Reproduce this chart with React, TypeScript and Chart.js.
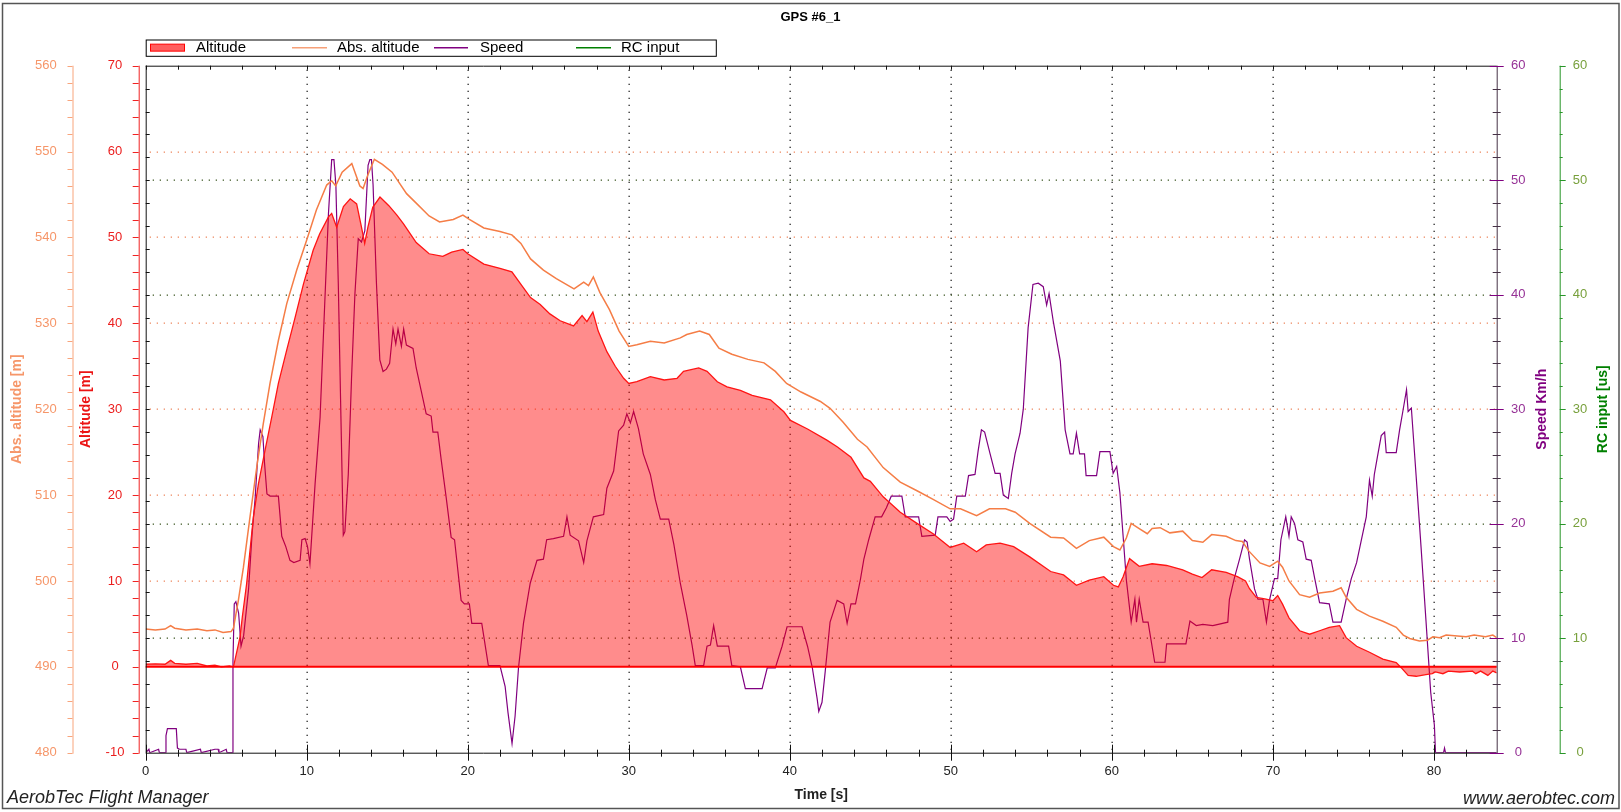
import React, { useEffect, useRef } from 'react';
import { Chart, registerables } from 'chart.js';

Chart.register(...registerables);

const FONT = '"Liberation Sans", Arial, Helvetica, sans-serif';

// ---------- texts ----------
const chartTitle = 'GPS #6_1';
const legendLabels = ['Altitude', 'Abs. altitude', 'Speed', 'RC input'];
const xAxisTitle = 'Time [s]';
const absAxisTitle = 'Abs. altitude [m]';
const altAxisTitle = 'Altitude [m]';
const speedAxisTitle = 'Speed Km/h';
const rcAxisTitle = 'RC input [us]';
const footerLeft = 'AerobTec Flight Manager';
const footerRight = 'www.aerobtec.com';

// ---------- axis ranges ----------
const timeRange = [0, 83.9];
const altitudeRange = [-10, 70];
const absAltitudeRange = [480, 560];
const speedRange = [0, 60];
const rcRange = [0, 60];

// ---------- data: Altitude [m] ----------
const altitudeTime = [
  0.0, 0.6, 1.2, 1.55, 1.8, 2.5, 3.2, 3.8, 4.3, 4.7,
  5.2, 5.45, 5.86, 6.0, 6.27, 6.48, 6.69, 7.0, 7.41, 7.83,
  8.24, 8.76, 9.28, 9.8, 10.4, 10.8, 11.35, 11.55, 11.86, 12.28,
  12.7, 13.1, 13.4, 13.6, 13.8, 14.1, 14.55, 15.1, 15.6, 16.0,
  16.8, 17.6, 18.45, 19.0, 19.7, 20.0, 21.0, 22.0, 22.74, 23.36,
  23.9, 24.5, 25.1, 25.74, 26.57, 27.1, 27.4, 27.77, 28.1, 28.64,
  29.16, 29.68, 30.0, 30.5, 31.34, 32.2, 33.0, 33.4, 34.34, 34.86,
  35.5, 36.1, 36.93, 37.66, 38.8, 39.63, 40.04, 41.1, 42.3, 42.96,
  43.8, 44.6, 45.0, 45.8, 46.86, 47.9, 48.9, 49.96, 50.8, 51.6,
  52.2, 53.06, 53.9, 54.9, 56.2, 57.0, 57.8, 58.6, 59.5, 60.1,
  60.4, 60.7, 61.1, 61.7, 62.5, 63.4, 64.4, 65.0, 65.6, 66.2,
  67.1, 67.8, 68.3, 68.55, 68.96, 69.5, 70.0, 70.3, 70.6, 71.0,
  71.66, 72.28, 72.9, 73.5, 74.14, 74.55, 75.2, 76.0, 76.83, 77.66,
  77.97, 78.4, 78.9, 79.5, 79.9, 80.1, 80.56, 80.9, 81.6, 82.4,
  82.6, 82.9, 83.35, 83.66, 83.9,
];
const altitudeValues = [
  0.3, 0.35, 0.3, 0.75, 0.4, 0.3, 0.4, 0.1, 0.2, 0.0,
  0.1, 0.0, 3.5, 5.8, 9.7, 13.6, 17.5, 21.3, 25.2, 29.1,
  33.0, 36.9, 40.7, 44.6, 48.5, 50.4, 52.4, 52.8, 51.2, 53.6,
  54.5, 53.9, 51.2, 49.3, 51.2, 53.5, 54.7, 53.7, 52.6, 51.6,
  49.4, 48.1, 47.8, 48.3, 48.6, 48.1, 46.9, 46.4, 46.0, 44.4,
  43.0, 42.2, 41.1, 40.3, 39.7, 40.9, 40.2, 41.3, 39.1, 36.7,
  35.0, 33.6, 33.0, 33.2, 33.8, 33.4, 33.6, 34.4, 34.8, 34.4,
  33.2, 32.6, 32.2, 31.6, 31.1, 29.7, 28.7, 27.7, 26.4, 25.6,
  24.4, 22.0, 21.6, 19.8, 18.0, 16.7, 15.5, 13.9, 14.4, 13.4,
  14.2, 14.4, 14.0, 12.8, 11.1, 10.7, 9.5, 10.1, 10.5, 9.5,
  9.3, 10.5, 12.6, 11.7, 12.0, 11.8, 11.3, 10.8, 10.4, 11.3,
  11.0, 10.5, 10.0, 9.1, 8.1, 7.9, 7.7, 8.3, 7.3, 5.7,
  4.2, 3.8, 4.2, 4.6, 4.8, 3.4, 2.4, 1.7, 0.9, 0.5,
  -0.1, -1.0, -1.1, -0.9, -0.8, -0.6, -0.8, -0.5, -0.6, -0.5,
  -0.8, -0.5, -1.0, -0.5, -0.7,
];

// ---------- data: Abs. altitude [m] ----------
const absAltitudeTime = [
  0.0, 0.6, 1.2, 1.55, 1.8, 2.5, 3.2, 3.8, 4.3, 4.8,
  5.3, 5.45, 5.76, 6.07, 6.48, 6.9, 7.3, 7.72, 8.24, 8.76,
  9.38, 10.0, 10.6, 11.24, 11.55, 11.8, 12.2, 12.8, 13.3, 13.5,
  13.8, 14.2, 14.7, 15.3, 16.2, 16.8, 17.6, 18.25, 19.1, 19.7,
  20.1, 21.0, 22.0, 22.74, 23.3, 23.9, 24.7, 25.5, 26.6, 27.2,
  27.5, 27.8, 28.2, 28.8, 29.4, 30.0, 30.5, 31.34, 32.2, 33.2,
  33.6, 34.4, 35.0, 35.6, 36.4, 37.4, 38.4, 39.1, 39.8, 40.7,
  41.9, 42.5, 43.3, 44.2, 44.8, 45.8, 46.86, 47.9, 48.9, 49.96,
  50.6, 51.6, 52.4, 53.4, 54.0, 54.9, 56.2, 57.0, 57.8, 58.6,
  59.5, 60.1, 60.5, 60.9, 61.2, 61.7, 62.2, 62.5, 63.0, 63.6,
  64.4, 65.0, 65.65, 66.2, 67.1, 67.7, 68.1, 68.5, 69.2, 69.8,
  70.3, 70.6, 71.0, 71.66, 72.28, 72.9, 73.73, 74.24, 74.55, 75.2,
  76.0, 76.83, 77.66, 78.1, 78.5, 79.1, 79.6, 79.94, 80.35, 80.76,
  82.0, 82.5, 83.2, 83.66, 83.9,
];
const absAltitudeValues = [
  494.4, 494.3, 494.4, 494.8, 494.5, 494.3, 494.4, 494.2, 494.3, 494.0,
  494.1, 494.5, 497.8, 501.6, 507.5, 513.3, 518.3, 523.0, 528.0, 532.3,
  536.2, 539.7, 543.2, 546.1, 546.6, 546.0, 547.6, 548.6, 546.0, 545.7,
  547.3, 549.1, 548.5, 547.6, 545.1, 544.0, 542.5, 541.8, 542.1, 542.6,
  542.1, 541.1, 540.7, 540.3, 539.3, 537.5, 536.2, 535.2, 534.0, 534.8,
  534.4, 535.4, 533.6, 531.6, 529.1, 527.3, 527.5, 527.9, 527.7, 528.3,
  528.7, 529.1, 528.7, 527.1, 526.4, 525.8, 525.4, 524.4, 523.0, 522.0,
  520.9, 520.1, 518.5, 516.5, 515.6, 513.2, 511.5, 510.5, 509.5, 508.4,
  508.4, 507.6, 508.4, 508.4, 508.0, 506.7, 505.1, 505.0, 503.8, 504.7,
  505.1, 504.0, 503.6, 505.0, 506.7, 506.1, 505.5, 506.1, 506.2, 505.6,
  505.8, 504.7, 504.5, 505.4, 505.2, 504.7, 504.6, 503.5, 502.1, 501.7,
  502.3, 501.6, 500.0, 498.4, 498.1, 498.6, 498.8, 499.2, 498.1, 496.7,
  495.9, 495.3, 494.6, 493.7, 493.3, 493.0, 493.1, 493.5, 493.4, 493.7,
  493.5, 493.7, 493.5, 493.7, 493.4,
];

// ---------- data: Speed [km/h] ----------
const speedTime = [
  0.0, 0.2, 0.25, 0.8, 0.85, 1.24, 1.26, 1.35, 1.9, 1.97,
  2.1, 2.5, 2.55, 3.4, 3.45, 4.3, 4.5, 4.55, 5.0, 5.05,
  5.38, 5.42, 5.5, 5.6, 5.77, 5.92, 6.08, 6.39, 6.6, 6.8,
  7.01, 7.11, 7.28, 7.38, 7.53, 7.73, 8.24, 8.45, 8.7, 8.96,
  9.2, 9.59, 9.7, 9.9, 10.05, 10.2, 10.52, 10.83, 11.0, 11.35,
  11.55, 11.69, 11.81, 11.96, 12.1, 12.27, 12.37, 12.58, 12.78, 12.99,
  13.2, 13.4, 13.61, 13.81, 13.92, 14.02, 14.12, 14.33, 14.54, 14.74,
  14.95, 15.15, 15.36, 15.53, 15.67, 15.88, 16.02, 16.19, 16.6, 16.8,
  17.11, 17.42, 17.73, 17.84, 18.14, 18.35, 18.66, 18.97, 19.18, 19.38,
  19.59, 19.79, 20.1, 20.25, 20.87, 21.28, 22.0, 22.32, 22.5, 22.75,
  22.94, 23.15, 23.46, 23.88, 24.3, 24.7, 24.9, 25.32, 25.95, 26.16,
  26.36, 26.88, 27.2, 27.4, 27.8, 28.44, 28.64, 29.06, 29.37, 29.68,
  29.88, 30.1, 30.3, 30.6, 30.9, 31.34, 31.65, 31.96, 32.48, 32.8,
  33.2, 33.6, 33.93, 34.13, 34.65, 34.86, 35.07, 35.27, 35.5, 36.2,
  36.4, 36.93, 37.24, 38.28, 38.6, 39.1, 39.52, 39.83, 40.76, 41.1,
  41.4, 41.7, 41.8, 42.0, 42.2, 42.5, 42.94, 43.35, 43.56, 43.8,
  44.08, 44.38, 44.6, 44.9, 45.3, 45.7, 46.0, 46.3, 46.96, 47.17,
  48.0, 48.2, 49.03, 49.2, 49.75, 49.96, 50.17, 50.37, 50.9, 51.1,
  51.5, 51.7, 51.9, 52.1, 52.44, 52.75, 53.06, 53.26, 53.57, 53.78,
  53.99, 54.3, 54.5, 54.8, 55.1, 55.43, 55.74, 55.95, 56.1, 56.36,
  56.8, 57.1, 57.4, 57.6, 57.8, 58.0, 58.3, 58.4, 59.05, 59.26,
  59.88, 60.08, 60.3, 60.5, 60.7, 60.9, 61.2, 61.43, 61.53, 61.7,
  61.94, 62.25, 62.66, 63.3, 63.4, 64.6, 64.85, 65.24, 65.65, 66.27,
  67.2, 67.3, 67.6, 67.93, 68.24, 68.4, 68.55, 68.86, 69.07, 69.38,
  69.6, 69.8, 70.1, 70.3, 70.5, 70.8, 71.0, 71.14, 71.35, 71.55,
  71.86, 72.07, 72.38, 72.6, 72.9, 73.5, 73.73, 74.24, 74.55, 74.87,
  75.2, 75.5, 75.8, 76.0, 76.17, 76.3, 76.5, 76.73, 76.94, 77.04,
  77.66, 77.87, 78.07, 78.3, 78.4, 78.6, 78.9, 79.2, 79.5, 79.8,
  80.03, 80.1, 80.6, 80.66, 80.72, 83.9,
];
const speedValues = [
  0.0, 0.3, 0.0, 0.3, 0.0, 0.0, 1.5, 2.1, 2.1, 0.4,
  0.3, 0.3, 0.0, 0.3, 0.0, 0.3, 0.3, 0.0, 0.3, 0.0,
  0.0, 8.0, 13.0, 13.2, 12.2, 9.3, 10.2, 14.3, 19.0, 22.3,
  27.0, 28.2, 27.6, 25.3, 22.6, 22.4, 22.4, 18.9, 18.0, 16.8,
  16.6, 16.8, 18.6, 18.7, 18.0, 16.5, 23.5, 29.3, 35.2, 47.1,
  51.8, 51.8, 49.6, 41.0, 31.0, 19.0, 19.3, 24.3, 32.6, 40.0,
  44.9, 44.6, 45.6, 51.3, 51.8, 51.8, 49.6, 41.0, 34.3, 33.3,
  33.5, 34.0, 37.0, 35.7, 37.0, 35.5, 37.0, 35.6, 35.3, 33.6,
  31.6, 29.6, 29.4, 28.0, 28.0, 25.6, 22.3, 18.8, 18.6, 16.0,
  13.3, 13.0, 13.0, 11.3, 11.3, 7.6, 7.6, 5.8, 3.5, 0.8,
  3.2, 7.4, 11.3, 14.8, 16.8, 16.9, 18.6, 18.7, 18.9, 20.6,
  19.0, 18.5, 16.6, 18.5, 20.6, 20.8, 23.1, 24.6, 28.1, 28.6,
  29.6, 28.8, 29.8, 28.3, 26.1, 24.3, 22.1, 20.4, 20.4, 18.2,
  14.8, 12.0, 9.4, 7.6, 7.6, 9.3, 9.4, 11.1, 9.3, 9.3,
  7.6, 7.5, 5.6, 5.6, 7.4, 7.4, 9.3, 11.0, 11.0, 9.3,
  7.4, 4.7, 3.6, 4.4, 7.1, 11.4, 13.3, 13.0, 11.3, 13.0,
  13.0, 15.1, 16.9, 18.6, 20.6, 20.6, 21.4, 22.4, 22.4, 20.6,
  20.6, 18.9, 19.0, 20.6, 20.6, 20.2, 20.4, 22.4, 22.4, 24.2,
  24.3, 26.4, 28.2, 28.0, 26.1, 24.4, 24.4, 22.5, 22.2, 24.4,
  26.1, 27.9, 30.0, 37.1, 40.9, 41.0, 40.7, 39.1, 40.1, 37.7,
  34.2, 28.2, 26.1, 26.1, 27.9, 26.1, 26.1, 24.2, 24.2, 26.3,
  26.3, 24.4, 25.0, 22.7, 18.9, 15.1, 11.4, 13.4, 11.4, 13.4,
  11.4, 11.4, 7.9, 7.9, 9.5, 9.5, 11.5, 11.1, 11.2, 11.1,
  11.4, 13.4, 15.2, 16.9, 18.6, 18.4, 16.9, 14.3, 13.4, 13.4,
  11.4, 13.4, 15.2, 15.2, 18.6, 20.6, 18.9, 20.6, 20.0, 18.6,
  18.4, 16.9, 16.8, 15.2, 13.1, 13.0, 11.4, 11.4, 13.4, 15.2,
  16.6, 18.6, 20.6, 23.8, 22.4, 24.3, 25.9, 27.7, 28.0, 26.2,
  26.2, 28.2, 29.8, 31.7, 29.8, 30.1, 24.1, 18.0, 11.7, 5.3,
  2.4, 0.0, 0.0, 0.4, 0.0, 0.0,
];

// ---------- data: RC input [us] (no samples recorded) ----------
const rcTime: number[] = [];
const rcValues: number[] = [];

// ---------- colours ----------
const C = {
  altLine: 'rgb(255,20,20)',
  altFill: 'rgba(255,0,0,0.45)',
  altAxis: 'rgb(240,35,35)',
  absLine: 'rgb(245,125,70)',
  absAxis: 'rgb(248,165,125)',
  absText: 'rgb(246,150,105)',
  speedLine: 'rgb(128,0,128)',
  speedText: 'rgb(150,50,150)',
  speedAxis: 'rgb(70,50,70)',
  rcLine: 'rgb(0,128,0)',
  rcAxis: 'rgb(40,150,40)',
  rcText: 'rgb(120,160,60)',
};

const zip = (t: number[], v: number[]) => t.map((x, i) => ({ x, y: v[i] }));

function vDots(ctx: CanvasRenderingContext2D, x: number, y0: number, y1: number, color: string) {
  ctx.fillStyle = color;
  for (let y = y0 + 4; y < y1 - 1; y += 7) ctx.fillRect(Math.round(x) - 0.5, y, 1.3, 1.3);
}
function hDots(ctx: CanvasRenderingContext2D, y: number, x0: number, x1: number, color: string) {
  ctx.fillStyle = color;
  for (let x = x0 + 4; x < x1 - 1; x += 7) ctx.fillRect(x, Math.round(y) - 0.5, 1.3, 1.3);
}
function line(ctx: CanvasRenderingContext2D, x0: number, y0: number, x1: number, y1: number) {
  ctx.beginPath();
  ctx.moveTo(x0, y0);
  ctx.lineTo(x1, y1);
  ctx.stroke();
}
function vText(ctx: CanvasRenderingContext2D, text: string, x: number, y: number, color: string) {
  ctx.save();
  ctx.translate(x, y);
  ctx.rotate(-Math.PI / 2);
  ctx.fillStyle = color;
  ctx.font = `bold 14px ${FONT}`;
  ctx.textAlign = 'center';
  ctx.textBaseline = 'middle';
  ctx.fillText(text, 0, 0);
  ctx.restore();
}

const decorPlugin = {
  id: 'decor',
  beforeDatasetsDraw(chart: any) {
    const { ctx, chartArea: ca, scales } = chart;
    const sx = scales.x, sAlt = scales.yAlt, sSp = scales.ySpeed;
    ctx.save();
    for (let t = 10; t <= 80; t += 10) vDots(ctx, sx.getPixelForValue(t), ca.top, ca.bottom, 'rgb(40,40,40)');
    for (let a = 10; a <= 60; a += 10) hDots(ctx, sAlt.getPixelForValue(a), ca.left, ca.right, 'rgb(238,140,100)');
    for (let s = 10; s <= 50; s += 10) {
      if (s === 30) continue;
      hDots(ctx, sSp.getPixelForValue(s), ca.left + 3, ca.right, 'rgb(70,95,45)');
    }
    ctx.restore();
  },
  afterDatasetsDraw(chart: any) {
    const { ctx, chartArea: ca, scales } = chart;
    const sx = scales.x, sAlt = scales.yAlt, sAbs = scales.yAbs, sSp = scales.ySpeed, sRc = scales.yRC;
    ctx.save();
    ctx.setLineDash([]);

    // zero altitude line
    ctx.strokeStyle = 'rgb(255,0,0)';
    ctx.lineWidth = 2;
    const y0 = sAlt.getPixelForValue(0);
    line(ctx, ca.left, y0, ca.right, y0);

    // plot frame: top, bottom, left
    ctx.strokeStyle = '#111';
    ctx.lineWidth = 1;
    line(ctx, ca.left, ca.top + 0.5, ca.right, ca.top + 0.5);
    line(ctx, ca.left, ca.bottom + 0.5, ca.right, ca.bottom + 0.5);
    line(ctx, ca.left + 0.5, ca.top, ca.left + 0.5, ca.bottom);
    for (let t = 0; t <= 83; t += 2) {
      const px = Math.round(sx.getPixelForValue(t)) + 0.5;
      const major = t % 10 === 0;
      line(ctx, px, ca.top, px, ca.top + 4);
      line(ctx, px, ca.bottom - (major ? 8 : 3), px, ca.bottom + (major ? 8 : 4));
    }
    for (let s = 2; s < 60; s += 2) {
      const py = Math.round(sSp.getPixelForValue(s)) + 0.5;
      line(ctx, ca.left, py, ca.left + 4, py);
    }

    // speed axis (right plot border)
    ctx.strokeStyle = C.speedAxis;
    line(ctx, ca.right + 0.5, ca.top, ca.right + 0.5, ca.bottom + 1);
    for (let s = 0; s <= 60; s += 2) {
      const py = Math.round(sSp.getPixelForValue(s)) + 0.5;
      const major = s % 10 === 0;
      ctx.strokeStyle = major ? C.speedLine : C.speedAxis;
      line(ctx, ca.right - (major ? 7 : 4), py, ca.right + (major ? 7 : 4), py);
    }

    // altitude axis (red)
    const xAlt = ca.left - 7;
    ctx.strokeStyle = C.altAxis;
    line(ctx, xAlt + 0.5, ca.top, xAlt + 0.5, ca.bottom + 1);
    for (let a = -10; a <= 70; a += 2) {
      const py = Math.round(sAlt.getPixelForValue(a)) + 0.5;
      line(ctx, xAlt - 6, py, xAlt, py);
    }

    // abs altitude axis (orange)
    const xAbs = sAbs.right - 7.5;
    ctx.strokeStyle = C.absAxis;
    line(ctx, xAbs + 0.5, ca.top, xAbs + 0.5, ca.bottom + 1);
    for (let a = 480; a <= 560; a += 2) {
      const py = Math.round(sAbs.getPixelForValue(a)) + 0.5;
      line(ctx, xAbs - 5, py, xAbs, py);
    }

    // RC axis (green)
    const xRc = sRc.left;
    ctx.strokeStyle = C.rcAxis;
    line(ctx, xRc + 0.5, ca.top, xRc + 0.5, ca.bottom + 1);
    for (let r = 0; r <= 60; r += 2) {
      const py = Math.round(sRc.getPixelForValue(r)) + 0.5;
      line(ctx, xRc, py, xRc + (r % 10 === 0 ? 6 : 3), py);
    }

    // axis titles
    const midY = (ca.top + ca.bottom) / 2;
    vText(ctx, absAxisTitle, 16.7, midY, C.absText);
    vText(ctx, altAxisTitle, 86, midY, 'rgb(235,20,20)');
    vText(ctx, speedAxisTitle, 1542.3, midY, C.speedLine);
    vText(ctx, rcAxisTitle, 1603.3, midY, C.rcLine);

    // chart title
    ctx.fillStyle = '#000';
    ctx.font = `bold 13px ${FONT}`;
    ctx.textAlign = 'center';
    ctx.textBaseline = 'middle';
    ctx.fillText(chartTitle, 810.5, 17);

    // legend
    const lx0 = ca.left, lx1 = 715.8, ly0 = 39.5, ly1 = 55.8, lyc = (ly0 + ly1) / 2;
    ctx.strokeStyle = '#000';
    ctx.lineWidth = 1;
    ctx.strokeRect(lx0 + 0.5, ly0 + 0.5, lx1 - lx0, ly1 - ly0);
    ctx.fillStyle = 'rgba(255,40,40,0.75)';
    ctx.fillRect(150, lyc - 3.5, 35, 7);
    ctx.strokeStyle = 'rgb(255,0,0)';
    ctx.strokeRect(150.5, lyc - 3.5, 34, 7);
    ctx.lineWidth = 1.5;
    ctx.strokeStyle = 'rgb(246,160,120)';
    line(ctx, 292, lyc, 327, lyc);
    ctx.strokeStyle = C.speedLine;
    line(ctx, 434, lyc, 468, lyc);
    ctx.strokeStyle = C.rcLine;
    line(ctx, 576, lyc, 611, lyc);
    ctx.fillStyle = '#000';
    ctx.font = `15px ${FONT}`;
    ctx.textAlign = 'left';
    const legendX = [196, 337, 480, 621];
    legendLabels.forEach((l, i) => ctx.fillText(l, legendX[i], lyc + 0.5));

    // footers
    ctx.fillStyle = '#222';
    ctx.font = `italic 18px ${FONT}`;
    ctx.textBaseline = 'alphabetic';
    ctx.textAlign = 'left';
    ctx.fillText(footerLeft, 7, 803);
    ctx.textAlign = 'right';
    ctx.fillText(footerRight, 1615, 804);

    // outer border
    ctx.strokeStyle = '#555';
    ctx.lineWidth = 1.5;
    ctx.strokeRect(2.5, 3.5, 1616.5, 805);
    ctx.restore();
  },
};

export default function App() {
  const ref = useRef<HTMLCanvasElement | null>(null);

  useEffect(() => {
    if (!ref.current) return;
    const tickFont = { family: FONT, size: 13 };
    const chart = new Chart(ref.current, {
      type: 'line',
      data: {
        datasets: [
          {
            label: legendLabels[0],
            data: zip(altitudeTime, altitudeValues),
            yAxisID: 'yAlt',
            borderColor: C.altLine,
            borderWidth: 1.3,
            pointRadius: 0,
            tension: 0,
            fill: { target: { value: 0 }, above: C.altFill, below: C.altFill },
          },
          {
            label: legendLabels[1],
            data: zip(absAltitudeTime, absAltitudeValues),
            yAxisID: 'yAbs',
            borderColor: C.absLine,
            borderWidth: 1.5,
            pointRadius: 0,
            tension: 0,
            fill: false,
          },
          {
            label: legendLabels[2],
            data: zip(speedTime, speedValues),
            yAxisID: 'ySpeed',
            borderColor: C.speedLine,
            borderWidth: 1.2,
            pointRadius: 0,
            tension: 0,
            fill: false,
          },
          {
            label: legendLabels[3],
            data: zip(rcTime, rcValues),
            yAxisID: 'yRC',
            borderColor: C.rcLine,
            borderWidth: 1.2,
            pointRadius: 0,
            fill: false,
          },
        ],
      },
      options: {
        responsive: false,
        animation: false,
        events: [],
        layout: { padding: { top: 65.7, left: 0, right: 0, bottom: 0 } },
        plugins: { legend: { display: false }, tooltip: { enabled: false }, title: { display: false } },
        scales: {
          x: {
            type: 'linear',
            position: 'bottom',
            min: timeRange[0],
            max: timeRange[1],
            grid: { display: false, drawTicks: false },
            border: { display: false },
            ticks: { stepSize: 10, includeBounds: false, autoSkip: false, maxRotation: 0, color: '#222', font: tickFont, padding: 11.2 },
            title: { display: true, text: xAxisTitle, color: '#222', font: { family: FONT, size: 14, weight: 'bold' }, padding: { top: 0, bottom: 8.6 } },
            afterFit: (s: any) => { s.height = 59.3; },
          },
          yAbs: {
            type: 'linear',
            position: 'left',
            weight: 1,
            min: absAltitudeRange[0],
            max: absAltitudeRange[1],
            grid: { display: false, drawTicks: false },
            border: { display: false },
            ticks: { stepSize: 10, autoSkip: false, crossAlign: 'center', color: C.absText, font: tickFont, padding: 23.2 },
            afterFit: (s: any) => { s.width = 80; },
          },
          yAlt: {
            type: 'linear',
            position: 'left',
            weight: 0,
            min: altitudeRange[0],
            max: altitudeRange[1],
            grid: { display: false, drawTicks: false },
            border: { display: false },
            ticks: { stepSize: 10, autoSkip: false, crossAlign: 'center', color: 'rgb(235,30,30)', font: tickFont, padding: 21.3 },
            afterFit: (s: any) => { s.width = 65.7; },
          },
          ySpeed: {
            type: 'linear',
            position: 'right',
            weight: 0,
            min: speedRange[0],
            max: speedRange[1],
            grid: { display: false, drawTicks: false },
            border: { display: false },
            ticks: { stepSize: 10, autoSkip: false, crossAlign: 'center', color: C.speedText, font: tickFont, padding: 14.4 },
            afterFit: (s: any) => { s.width = 63; },
          },
          yRC: {
            type: 'linear',
            position: 'right',
            weight: 1,
            min: rcRange[0],
            max: rcRange[1],
            grid: { display: false, drawTicks: false },
            border: { display: false },
            ticks: { stepSize: 10, autoSkip: false, crossAlign: 'center', color: C.rcText, font: tickFont, padding: 13.1 },
            afterFit: (s: any) => { s.width = 61.3; },
          },
        },
      } as any,
      plugins: [decorPlugin],
    });
    return () => chart.destroy();
  }, []);

  return (
    <div style={{ position: 'fixed', left: 0, top: 0, width: 1621, height: 812, background: '#fff' }}>
      <canvas ref={ref} width={1621} height={812} style={{ width: 1621, height: 812, display: 'block' }} />
    </div>
  );
}
